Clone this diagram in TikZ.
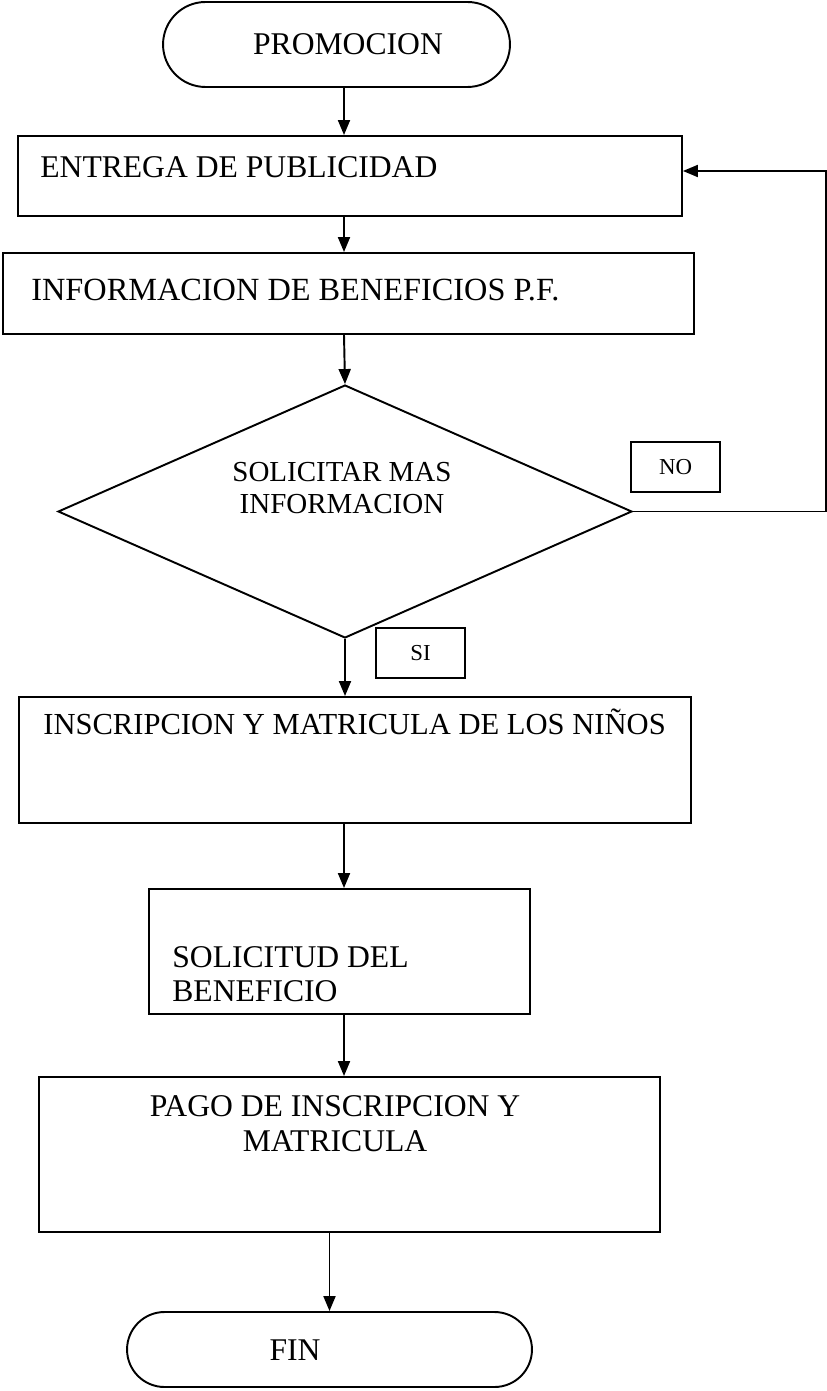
\documentclass[tikz,border=0pt]{standalone}
\usepackage{fontspec}
\setmainfont{Liberation Serif}
\usepackage{tikz}
\usetikzlibrary{arrows.meta,positioning,shapes.geometric,shapes.misc}
\tikzstyle{terminal} = [rounded rectangle, draw=black, line width=1.1pt, inner sep=0pt]
\tikzstyle{process} = [rectangle, draw=black, line width=1.1pt, inner sep=0pt]
\tikzstyle{decision} = [diamond, draw=black, line width=1.1pt, inner sep=0pt]
\tikzstyle{tag} = [rectangle, draw=black, line width=1.1pt, inner sep=0pt, minimum width=1.78cm, minimum height=1cm, font=\fontsize{13}{15}\selectfont]
\tikzstyle{boxtext} = [inner sep=0pt, align=left, font=\fontsize{18}{19}\selectfont]
\tikzstyle{arrow} = [-{Triangle[length=0.3cm, width=0.24cm]}, line width=1.1pt]

\begin{document}
\begin{tikzpicture}[x=0.02cm, y=-0.02cm]
\useasboundingbox (0,0) rectangle (827,1391);
\coordinate (spine) at (344,0);
\coordinate (loop) at (826,171);

\node[terminal, minimum width=6.94cm, minimum height=1.7cm] (promo) at (336.5,44.5) {};
\node[boxtext] (promotext) at (348,44) {PROMOCION};
\node[process, minimum width=13.28cm, minimum height=1.6cm] (entrega) at (350,176) {};
\node[boxtext, anchor=west] (entregatext) at (40,167) {ENTREGA DE PUBLICIDAD};
\node[process, minimum width=13.82cm, minimum height=1.62cm] (info) at (348.5,293.5) {};
\node[boxtext, anchor=west, font=\fontsize{18.4}{19}\selectfont] (infotext) at (31,290) {INFORMACION DE BENEFICIOS P.F.};
\node[decision, minimum width=11.48cm, minimum height=5.06cm] (ask) at (345,511.5) {};
\node[boxtext, align=center, font=\fontsize{16.5}{18.5}\selectfont] (asktext) at (342,488) {SOLICITAR MAS\\INFORMACION};
\node[tag] (no) at (675.5,467) {NO};
\node[tag] (si) at (420.5,653) {SI};
\node[process, minimum width=13.44cm, minimum height=2.52cm] (inscrip) at (355,760) {};
\node[boxtext, anchor=west, font=\fontsize{17.4}{19}\selectfont] (inscriptext) at (43,722) {INSCRIPCION Y MATRICULA DE LOS NIÑOS};
\node[process, minimum width=7.62cm, minimum height=2.5cm] (solic) at (339.5,951.5) {};
\node[boxtext, anchor=west] (solictext) at (172,974) {SOLICITUD DEL\\BENEFICIO};
\node[process, minimum width=12.42cm, minimum height=3.1cm] (pago) at (349.5,1154.5) {};
\node[boxtext, align=center, font=\fontsize{18}{20}\selectfont] (pagotext) at (335,1124) {PAGO DE INSCRIPCION Y\\MATRICULA};
\node[terminal, minimum width=8.1cm, minimum height=1.5cm] (fin) at (329.5,1349.5) {};
\node[boxtext] (fintext) at (295,1350) {FIN};

\draw[arrow] (promo.south -| spine) -- (entrega.north -| spine);
\draw[arrow] (entrega.south -| spine) -- (info.north -| spine);
\draw[arrow] (info.south -| spine) -- (ask.north);
\draw[arrow] (ask.south) -- (inscrip.north -| ask.south);
\draw[arrow] (inscrip.south -| spine) -- (solic.north -| spine);
\draw[arrow] (solic.south -| spine) -- (pago.north -| spine);
\draw[arrow] (fin.north |- pago.south) -- (fin.north);
\draw[arrow] (ask.east) -| (loop) -- (entrega.east |- loop);
\end{tikzpicture}
\end{document}
